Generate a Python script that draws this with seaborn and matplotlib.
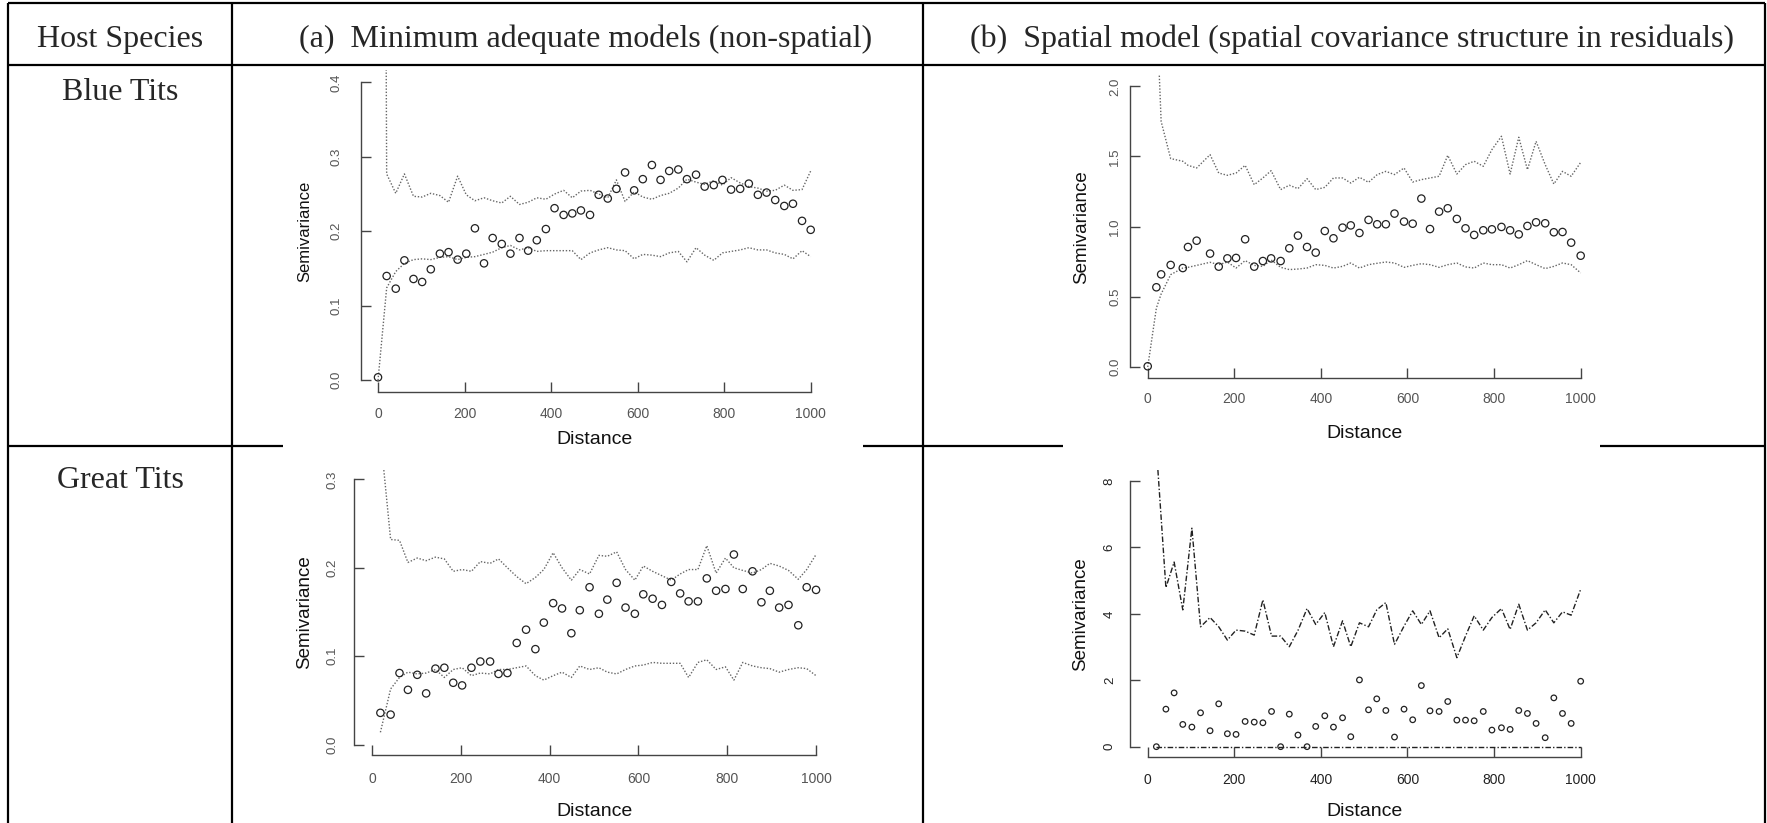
import matplotlib
matplotlib.use("Agg")
import matplotlib.pyplot as plt
from matplotlib.lines import Line2D
import pandas as pd
import seaborn as sns

# ---------------- data ----------------
# (a) Blue Tits, non-spatial
dist_bt_ns = [0, 20, 41, 61, 82, 102, 122, 143, 163, 184, 204, 224, 245, 265, 286, 306, 327, 347, 367, 388,
              408, 429, 449, 469, 490, 510, 531, 551, 571, 592, 612, 633, 653, 673, 694, 714, 735, 755, 776, 796,
              816, 837, 857, 878, 898, 918, 939, 959, 980, 1000]
semiv_bt_ns = [0.004, 0.140, 0.123, 0.161, 0.136, 0.132, 0.149, 0.170, 0.172, 0.162,
               0.170, 0.204, 0.157, 0.191, 0.183, 0.170, 0.191, 0.174, 0.188, 0.203,
               0.231, 0.222, 0.224, 0.228, 0.222, 0.249, 0.244, 0.257, 0.279, 0.255,
               0.270, 0.289, 0.269, 0.281, 0.283, 0.270, 0.276, 0.260, 0.262, 0.269,
               0.256, 0.257, 0.264, 0.249, 0.252, 0.242, 0.234, 0.237, 0.214, 0.202]
upper_bt_ns = [3.0, 0.277, 0.251, 0.277, 0.247, 0.246, 0.251, 0.248, 0.239, 0.274,
               0.249, 0.241, 0.245, 0.241, 0.238, 0.247, 0.236, 0.239, 0.245, 0.243,
               0.250, 0.255, 0.245, 0.254, 0.255, 0.250, 0.245, 0.269, 0.240, 0.253,
               0.246, 0.243, 0.248, 0.251, 0.258, 0.270, 0.266, 0.263, 0.268, 0.262,
               0.272, 0.265, 0.260, 0.258, 0.254, 0.255, 0.262, 0.255, 0.256, 0.281]
lower_bt_ns = [0.0, 0.124, 0.146, 0.157, 0.162, 0.163, 0.162, 0.165, 0.166, 0.162,
               0.165, 0.166, 0.169, 0.172, 0.178, 0.181, 0.175, 0.178, 0.173, 0.174,
               0.174, 0.174, 0.174, 0.162, 0.171, 0.175, 0.178, 0.175, 0.174, 0.163,
               0.169, 0.168, 0.166, 0.171, 0.173, 0.159, 0.178, 0.168, 0.161, 0.171,
               0.173, 0.175, 0.178, 0.175, 0.175, 0.171, 0.169, 0.163, 0.174, 0.166]

# (b) Blue Tits, spatial model
dist_bt_sp = [0, 20, 31, 53, 81, 93, 113, 144, 164, 184, 204, 225, 246, 266, 285, 307, 327, 347, 368, 388,
              409, 429, 450, 469, 489, 510, 530, 550, 570, 592, 612, 632, 652, 673, 693, 714, 734, 754, 775, 795,
              817, 837, 857, 877, 897, 918, 938, 958, 978, 1000]
semiv_bt_sp = [0.005, 0.568, 0.660, 0.727, 0.705, 0.855, 0.900, 0.808, 0.715, 0.774,
               0.777, 0.910, 0.715, 0.755, 0.774, 0.755, 0.846, 0.936, 0.855, 0.815,
               0.969, 0.917, 0.993, 1.009, 0.955, 1.048, 1.017, 1.017, 1.093, 1.036,
               1.021, 1.200, 0.983, 1.107, 1.131, 1.055, 0.988, 0.941, 0.974, 0.981,
               0.998, 0.974, 0.945, 1.005, 1.031, 1.024, 0.960, 0.962, 0.886, 0.793]
upper_bt_sp = [5.0, 2.6, 1.75, 1.485, 1.466, 1.437, 1.418, 1.513, 1.382, 1.366,
               1.382, 1.437, 1.299, 1.347, 1.399, 1.264, 1.295, 1.271, 1.342, 1.264,
               1.280, 1.347, 1.347, 1.311, 1.352, 1.316, 1.371, 1.394, 1.371, 1.418,
               1.318, 1.335, 1.347, 1.359, 1.508, 1.375, 1.442, 1.466, 1.430, 1.549,
               1.644, 1.375, 1.637, 1.406, 1.608, 1.442, 1.304, 1.394, 1.359, 1.458]
lower_bt_sp = [0.0, 0.42, 0.52, 0.658, 0.705, 0.71, 0.724, 0.746, 0.729, 0.748,
               0.705, 0.758, 0.724, 0.717, 0.763, 0.710, 0.694, 0.698, 0.705, 0.729,
               0.724, 0.705, 0.717, 0.741, 0.705, 0.729, 0.739, 0.748, 0.741, 0.710,
               0.724, 0.736, 0.729, 0.710, 0.729, 0.741, 0.713, 0.705, 0.741, 0.729,
               0.729, 0.705, 0.729, 0.758, 0.729, 0.701, 0.717, 0.741, 0.729, 0.670]

# (a) Great Tits, non-spatial
dist_gt_ns = [19, 42, 62, 81, 102, 122, 143, 163, 183, 203, 224, 244, 266, 285, 305, 326, 347, 368, 387, 408,
              428, 449, 468, 490, 511, 530, 551, 571, 592, 611, 632, 653, 674, 694, 713, 734, 754, 775, 796, 815,
              835, 857, 877, 896, 917, 938, 960, 979, 1000]
semiv_gt_ns = [0.036, 0.034, 0.081, 0.062, 0.079, 0.058, 0.086, 0.087, 0.070, 0.067,
               0.087, 0.094, 0.094, 0.080, 0.081, 0.115, 0.130, 0.108, 0.138, 0.160,
               0.154, 0.126, 0.152, 0.178, 0.148, 0.164, 0.183, 0.155, 0.148, 0.170,
               0.165, 0.158, 0.184, 0.171, 0.162, 0.162, 0.188, 0.174, 0.176, 0.215,
               0.176, 0.196, 0.161, 0.174, 0.155, 0.158, 0.135, 0.178, 0.175]
upper_gt_ns = [0.35, 0.232, 0.231, 0.206, 0.211, 0.208, 0.212, 0.210, 0.196, 0.198,
               0.196, 0.207, 0.205, 0.210, 0.200, 0.190, 0.182, 0.189, 0.198, 0.217,
               0.200, 0.186, 0.198, 0.193, 0.214, 0.213, 0.218, 0.198, 0.186, 0.202,
               0.196, 0.191, 0.186, 0.193, 0.198, 0.198, 0.225, 0.194, 0.211, 0.200,
               0.197, 0.194, 0.198, 0.205, 0.202, 0.197, 0.187, 0.198, 0.215]
lower_gt_ns = [0.014, 0.063, 0.076, 0.082, 0.080, 0.081, 0.085, 0.076, 0.085, 0.087,
               0.078, 0.081, 0.080, 0.085, 0.085, 0.087, 0.089, 0.078, 0.073, 0.078,
               0.082, 0.076, 0.089, 0.085, 0.087, 0.082, 0.080, 0.085, 0.089, 0.090,
               0.093, 0.092, 0.092, 0.092, 0.076, 0.093, 0.096, 0.085, 0.088, 0.073,
               0.093, 0.089, 0.087, 0.086, 0.082, 0.085, 0.087, 0.086, 0.078]

# (b) Great Tits, spatial model
dist_gt_sp = [20, 42, 61, 81, 102, 122, 144, 164, 184, 204, 225, 246, 266, 286, 307, 327, 347, 368, 388, 409,
              429, 450, 469, 489, 510, 529, 550, 570, 592, 612, 632, 652, 673, 693, 714, 734, 754, 775, 795, 817,
              837, 857, 877, 897, 918, 938, 958, 978, 1000]
semiv_gt_sp = [0.0, 1.13, 1.62, 0.67, 0.59, 1.02, 0.48, 1.29, 0.39, 0.37,
               0.76, 0.74, 0.72, 1.06, 0.0, 0.98, 0.35, 0.0, 0.61, 0.93,
               0.59, 0.87, 0.30, 2.01, 1.11, 1.44, 1.09, 0.29, 1.13, 0.81,
               1.84, 1.08, 1.06, 1.36, 0.80, 0.80, 0.78, 1.06, 0.50, 0.57,
               0.52, 1.09, 1.00, 0.70, 0.27, 1.47, 1.00, 0.70, 1.97]
upper_gt_sp = [9.0, 4.79, 5.56, 4.12, 6.58, 3.61, 3.89, 3.61, 3.21, 3.51,
               3.48, 3.36, 4.42, 3.33, 3.33, 3.01, 3.50, 4.16, 3.68, 4.04,
               3.01, 3.79, 3.01, 3.73, 3.61, 4.12, 4.34, 3.08, 3.63, 4.09,
               3.68, 4.09, 3.28, 3.55, 2.68, 3.33, 3.94, 3.51, 3.89, 4.16,
               3.53, 4.29, 3.51, 3.73, 4.12, 3.73, 4.06, 3.96, 4.74]
lower_gt_sp = [0.0, 0.0, 0.0, 0.0, 0.0, 0.0, 0.0, 0.0, 0.0, 0.0,
               0.0, 0.0, 0.0, 0.0, 0.0, 0.0, 0.0, 0.0, 0.0, 0.0,
               0.0, 0.0, 0.0, 0.0, 0.0, 0.0, 0.0, 0.0, 0.0, 0.0,
               0.0, 0.0, 0.0, 0.0, 0.0, 0.0, 0.0, 0.0, 0.0, 0.0,
               0.0, 0.0, 0.0, 0.0, 0.0, 0.0, 0.0, 0.0, 0.0]

x_ticks = [0, 200, 400, 600, 800, 1000]
x_ticklabels = ["0", "200", "400", "600", "800", "1000"]
yt_bt_ns = [0.0, 0.1, 0.2, 0.3, 0.4]
ytl_bt_ns = ["0.0", "0.1", "0.2", "0.3", "0.4"]
yt_bt_sp = [0.0, 0.5, 1.0, 1.5, 2.0]
ytl_bt_sp = ["0.0", "0.5", "1.0", "1.5", "2.0"]
yt_gt_ns = [0.0, 0.1, 0.2, 0.3]
ytl_gt_ns = ["0.0", "0.1", "0.2", "0.3"]
yt_gt_sp = [0, 2, 4, 6, 8]
ytl_gt_sp = ["0", "2", "4", "6", "8"]

header_labels = ["Host Species", "(a)  Minimum adequate models (non-spatial)",
                 "(b)  Spatial model (spatial covariance structure in residuals)"]
species = ["Blue Tits", "Great Tits"]
x_title = "Distance"
y_title = "Semivariance"

# ---------------- figure ----------------
W, H = 1767, 823
sns.set_theme(style="ticks")
plt.rcParams['font.family'] = ['Liberation Sans', 'DejaVu Sans']

fig = plt.figure(figsize=(W / 100, H / 100), dpi=100)
fig.patch.set_facecolor("white")


def fx(x):
    return x / W


def fy(y):
    return 1 - y / H


# table lines
LW = 1.6
def hline(y, x0, x1):
    fig.add_artist(Line2D([fx(x0), fx(x1)], [fy(y), fy(y)], transform=fig.transFigure,
                          color="black", lw=LW, solid_capstyle="butt"))


def vline(x, y0, y1):
    fig.add_artist(Line2D([fx(x), fx(x)], [fy(y0), fy(y1)], transform=fig.transFigure,
                          color="black", lw=LW, solid_capstyle="butt"))


hline(3, 8, 1765)
hline(65, 8, 1765)
hline(446, 8, 283)
hline(446, 863, 1063)
hline(446, 1600, 1765)
for xv in (8, 232, 923, 1765):
    vline(xv, 3, 823)

serif = ['Liberation Serif', 'DejaVu Serif']
fig.text(fx(120), fy(47), header_labels[0], ha="center", va="baseline", fontsize=23, family=serif)
fig.text(fx(586), fy(47), header_labels[1], ha="center", va="baseline", fontsize=23, family=serif)
fig.text(fx(1352), fy(47), header_labels[2], ha="center", va="baseline", fontsize=23, family=serif)
fig.text(fx(120), fy(100), species[0], ha="center", va="baseline", fontsize=23, family=serif)
fig.text(fx(120), fy(488), species[1], ha="center", va="baseline", fontsize=23, family=serif)

panels = [
    dict(d=dist_bt_ns, s=semiv_bt_ns, u=upper_bt_ns, l=lower_bt_ns, box=(360.7, 828, 70.4, 392.2),
         ylim=(-0.016, 0.416), yt=yt_bt_ns, ytl=ytl_bt_ns, ypad=13, xpad=11, yl=56, xl=47, ylfs=12,
         ls=(0, (1, 1.3)), lc="#666666", tc="#555555", ms=28),
    dict(d=dist_bt_sp, s=semiv_bt_sp, u=upper_bt_sp, l=lower_bt_sp, box=(1130.4, 1598, 75.1, 378.2),
         ylim=(-0.08, 2.08), yt=yt_bt_sp, ytl=ytl_bt_sp, ypad=6.5, xpad=10, yl=49, xl=55, ylfs=13.5,
         ls=(0, (1, 1.3)), lc="#666666", tc="#555555", ms=28),
    dict(d=dist_gt_ns, s=semiv_gt_ns, u=upper_gt_ns, l=lower_gt_ns, box=(354.2, 833.8, 468.7, 755.3),
         ylim=(-0.012, 0.312), yt=yt_gt_ns, ytl=ytl_gt_ns, ypad=11, xpad=12, yl=50, xl=56, ylfs=13.5,
         ls=(0, (1, 1.3)), lc="#666666", tc="#555555", ms=28),
    dict(d=dist_gt_sp, s=semiv_gt_sp, u=upper_gt_sp, l=lower_gt_sp, box=(1130.4, 1598, 470.4, 757.3),
         ylim=(-0.32, 8.32), yt=yt_gt_sp, ytl=ytl_gt_sp, ypad=10.5, xpad=11, yl=50, xl=54, ylfs=13.5,
         ls=(0, (4, 1.5, 1, 1.5)), lc="#222222", tc="#222222", ms=16),
]

for p in panels:
    l, r, t, b = p["box"]
    ax = fig.add_axes([fx(l), fy(b), (r - l) / W, (b - t) / H])
    ax.set_facecolor("none")
    df = pd.DataFrame({"dist": p["d"], "semiv": p["s"], "upper": p["u"], "lower": p["l"]})
    sns.lineplot(data=df, x="dist", y="upper", ax=ax, estimator=None, sort=False, errorbar=None,
                 color=p["lc"], lw=1.0, linestyle=p["ls"], zorder=2)
    sns.lineplot(data=df, x="dist", y="lower", ax=ax, estimator=None, sort=False, errorbar=None,
                 color=p["lc"], lw=1.0, linestyle=p["ls"], zorder=2)
    sns.scatterplot(data=df, x="dist", y="semiv", ax=ax, marker="o", s=p["ms"],
                    facecolors="none", edgecolor="#222222", linewidth=0.9, zorder=3)
    coll = ax.collections[-1]
    coll.set_facecolor("none")
    coll.set_edgecolor("#222222")

    ax.set_xlim(-40, 1040)
    ax.set_ylim(*p["ylim"])
    ax.set_xticks(x_ticks)
    ax.set_xticklabels(x_ticklabels)
    ax.set_yticks(p["yt"])
    ax.set_yticklabels(p["ytl"])
    for side in ("top", "right"):
        ax.spines[side].set_visible(False)
    ax.spines["left"].set_bounds(p["yt"][0], p["yt"][-1])
    ax.spines["bottom"].set_bounds(0, 1000)
    for side in ("left", "bottom"):
        ax.spines[side].set_color("#444444")
        ax.spines[side].set_linewidth(1.0)
    ax.tick_params(axis="both", direction="in", length=7.5, width=1.0, color="#444444",
                   labelcolor=p["tc"])
    ax.tick_params(axis="y", pad=p["ypad"], labelrotation=90, labelsize=9.5)
    ax.tick_params(axis="x", pad=p["xpad"], labelsize=10)
    for lab in ax.get_yticklabels():
        lab.set_va("center")
    ax.grid(False)

    wpx, hpx = r - l, b - t
    ax.set_xlabel(x_title, fontsize=14, color="#111111", va="center")
    ax.set_ylabel(y_title, fontsize=p["ylfs"], color="#111111", va="center")
    ax.xaxis.set_label_coords(0.5, -p["xl"] / hpx)
    ax.yaxis.set_label_coords(-p["yl"] / wpx, 0.5)

fig.savefig("out.png", dpi=100, facecolor="white")
